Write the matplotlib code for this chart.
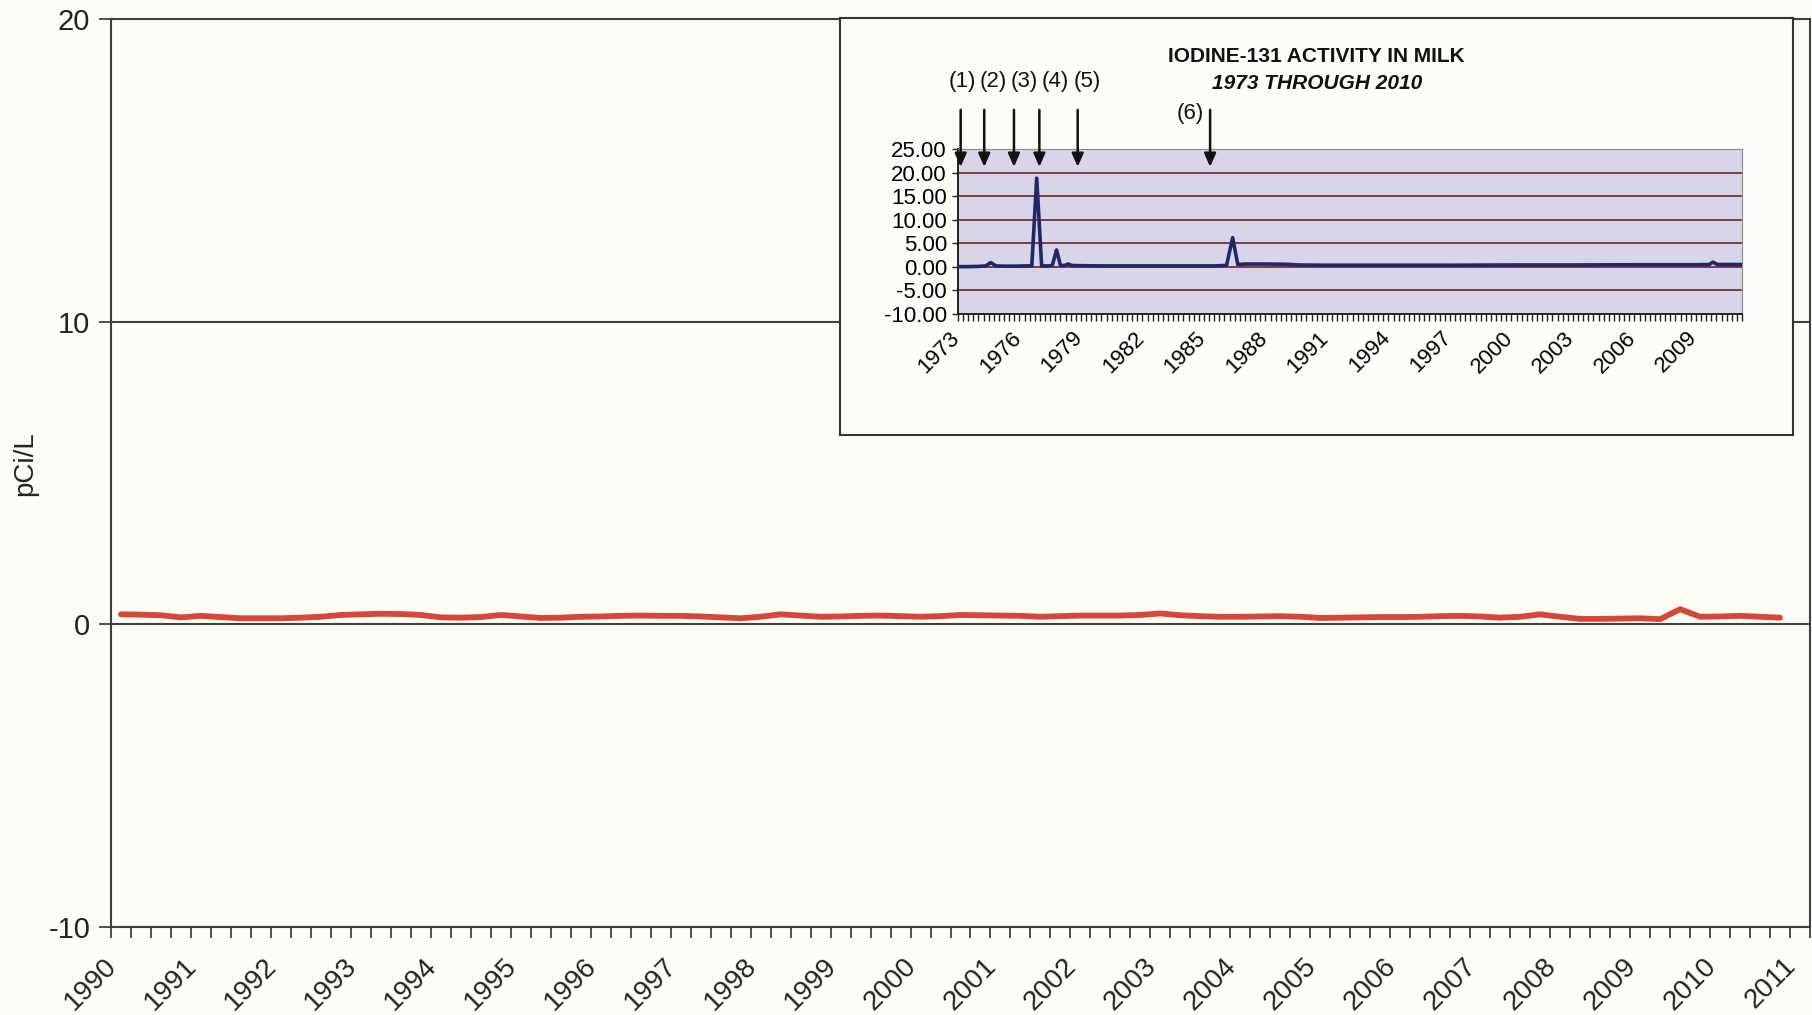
import matplotlib
matplotlib.use("Agg")
import matplotlib.pyplot as plt
import matplotlib.transforms as mtransforms
from matplotlib.ticker import MultipleLocator, FuncFormatter

plt.rcParams['font.family'] = ['Liberation Sans', 'DejaVu Sans']
plt.rcParams['axes.unicode_minus'] = False

# ---- Main chart: quarterly I-131 in milk, 1990-2010 (pCi/L) ----
years = list(range(1990, 2011))
quarter_mid = [0.125, 0.375, 0.625, 0.875]
i131_quarterly = [
    0.33, 0.32, 0.30, 0.23,   # 1990
    0.28, 0.24, 0.20, 0.20,   # 1991
    0.20, 0.22, 0.25, 0.31,   # 1992
    0.33, 0.35, 0.34, 0.31,   # 1993
    0.23, 0.22, 0.24, 0.31,   # 1994
    0.26, 0.21, 0.22, 0.25,   # 1995
    0.26, 0.28, 0.29, 0.28,   # 1996
    0.28, 0.26, 0.23, 0.20,   # 1997
    0.25, 0.33, 0.29, 0.25,   # 1998
    0.26, 0.28, 0.29, 0.27,   # 1999
    0.25, 0.27, 0.31, 0.30,   # 2000
    0.29, 0.28, 0.25, 0.27,   # 2001
    0.29, 0.29, 0.29, 0.31,   # 2002
    0.36, 0.30, 0.27, 0.25,   # 2003
    0.25, 0.26, 0.27, 0.25,   # 2004
    0.21, 0.22, 0.23, 0.24,   # 2005
    0.24, 0.25, 0.27, 0.28,   # 2006
    0.26, 0.22, 0.25, 0.33,   # 2007
    0.25, 0.18, 0.18, 0.19,   # 2008
    0.20, 0.17, 0.50, 0.25,   # 2009
    0.26, 0.28, 0.25, 0.22,   # 2010
]
main_xticks = list(range(1990, 2012))
main_yticks = [-10, 0, 10, 20]

# ---- Inset: long-term record 1973-2010 ----
inset_years = [1973.0, 1973.5, 1974.0, 1974.35, 1974.6, 1974.85, 1975.25, 1975.75,
               1976.25, 1976.6, 1976.84, 1977.08, 1977.4, 1977.6, 1977.81, 1978.0,
               1978.2, 1978.37, 1978.55, 1979.0, 1980.0, 1982.0, 1984.0, 1985.5,
               1986.1, 1986.4, 1986.65, 1987.0, 1988.0, 1989.0, 1989.6, 1991.0,
               1994.0, 1997.0, 2000.0, 2003.0, 2006.0, 2009.0, 2009.65, 2009.83,
               2010.05, 2011.25]
inset_vals = [0.05, 0.05, 0.10, 0.20, 0.90, 0.20, 0.15, 0.15,
              0.20, 0.20, 18.8, 0.20, 0.20, 0.30, 3.6, 0.30,
              0.30, 0.60, 0.30, 0.25, 0.20, 0.20, 0.20, 0.20,
              0.30, 6.2, 0.50, 0.60, 0.60, 0.55, 0.40, 0.35,
              0.35, 0.35, 0.40, 0.40, 0.45, 0.45, 0.50, 1.0,
              0.50, 0.50]
inset_yticks = [-10, -5, 0, 5, 10, 15, 20, 25]
inset_xticks = list(range(1973, 2010, 3))
event_labels = ["(1)", "(2)", "(3)", "(4)", "(5)", "(6)"]
event_years = [1973.13, 1974.28, 1975.73, 1976.97, 1978.84, 1985.3]

W, H = 1812, 1015
paper = '#fdfdf7'
ink = '#404040'
fig = plt.figure(figsize=(W / 100, H / 100), dpi=100, facecolor=paper)


def px_box(x0, y0, x1, y1):
    """Convert a pixel box (top-left origin) to figure-fraction rect."""
    return [x0 / W, 1 - y1 / H, (x1 - x0) / W, (y1 - y0) / H]


def nudge(labels, dx_px, dy_px):
    """Shift tick labels by a fixed number of pixels."""
    off = mtransforms.ScaledTranslation(dx_px / 100, dy_px / 100, fig.dpi_scale_trans)
    for lbl in labels:
        lbl.set_transform(lbl.get_transform() + off)


# ---------------- main axes ----------------
ax = fig.add_axes(px_box(111, 19, 1810, 927))
ax.set_facecolor(paper)
xs = [y + q for y in years for q in quarter_mid]
ax.plot(xs, i131_quarterly, color='#d8453b', lw=4.2, solid_capstyle='round',
        solid_joinstyle='round', zorder=3)
ax.set_xlim(1990, 2011.25)
ax.set_ylim(-10, 20)
ax.set_yticks(main_yticks)
ax.set_xticks(main_xticks)
ax.set_xticklabels([str(v) for v in main_xticks], rotation=45, ha='right',
                   va='top', rotation_mode='anchor')
ax.xaxis.set_minor_locator(MultipleLocator(0.25))
ax.tick_params(axis='x', which='both', direction='out', length=8, width=1.3,
               color=ink, labelsize=20, pad=10.5, labelcolor='#222222')
ax.tick_params(axis='y', which='major', direction='out', length=9, width=1.3,
               color=ink, labelsize=21, pad=6, labelcolor='#222222')
nudge(ax.get_xticklabels(), -7, 0)
ax.yaxis.grid(True, color=ink, lw=1.5)
ax.set_axisbelow(True)
for s in ax.spines.values():
    s.set_color(ink)
    s.set_linewidth(1.5)
ax.set_ylabel('pCi/L', fontsize=20, color='#222222')
ax.yaxis.set_label_coords(-0.043, 0.51)

# ---------------- inset frame ----------------
box = fig.add_axes(px_box(840, 18, 1793, 435), zorder=5)
box.set_facecolor(paper)
box.set_xticks([])
box.set_yticks([])
for s in box.spines.values():
    s.set_color('#333333')
    s.set_linewidth(1.5)

# ---------------- inset chart ----------------
ai = fig.add_axes(px_box(958, 149, 1742, 314), zorder=6)
ai.set_facecolor('#d8d5e9')
ai.plot(inset_years, inset_vals, color='#1f2766', lw=2.6, zorder=3)
ai.set_xlim(1973, 2011.25)
ai.set_ylim(-10, 25)
ai.set_yticks(inset_yticks)
ai.yaxis.set_major_formatter(FuncFormatter(lambda v, p: f"{v:.2f}"))
ai.set_xticks(inset_xticks)
ai.set_xticklabels([str(v) for v in inset_xticks], rotation=45, ha='right',
                   va='top', rotation_mode='anchor')
ai.xaxis.set_minor_locator(MultipleLocator(0.25))
ai.tick_params(axis='x', which='both', direction='out', length=5, width=1.0,
               color='#222222', labelsize=16, pad=4.5)
ai.tick_params(axis='y', direction='out', length=4, width=1.0, color='#222222',
               labelsize=16, pad=4)
nudge(ai.get_xticklabels(), -9, 0)
ai.yaxis.grid(True, color='#7a3b48', lw=1.4)
ai.set_axisbelow(True)
ai.spines['left'].set_color('#222222')
ai.spines['bottom'].set_color('#222222')
ai.spines['left'].set_linewidth(1.4)
ai.spines['bottom'].set_linewidth(1.4)
ai.spines['top'].set_color('#8a8a8a')
ai.spines['right'].set_color('#8a8a8a')

# event arrows above the inset chart
for yr in event_years:
    ai.annotate('', xy=(yr, 21.2), xytext=(yr, 33.3), annotation_clip=False,
                arrowprops=dict(arrowstyle='-|>,head_length=0.8,head_width=0.35',
                                color='#111111', lw=1.8, shrinkA=0, shrinkB=0))

label_px = [(962, 82), (993, 82), (1024, 82), (1055, 82), (1087, 82)]
for (lx, ly), lab in zip(label_px, event_labels[:5]):
    fig.text(lx / W, 1 - ly / H, lab, ha='center', va='center', fontsize=16,
             color='#111111', zorder=10)
fig.text(1204 / W, 1 - 113 / H, event_labels[5], ha='right', va='center',
         fontsize=16, color='#111111', zorder=10)

title_font = ['Liberation Sans Narrow', 'Liberation Sans', 'DejaVu Sans']
fig.text(1316 / W, 1 - 56 / H, 'IODINE-131 ACTIVITY IN MILK', ha='center',
         va='center', fontsize=15, fontweight='bold', family=title_font,
         color='#111111', zorder=10)
fig.text(1317 / W, 1 - 84 / H, '1973 THROUGH 2010', ha='center', va='center',
         fontsize=15, fontweight='bold', fontstyle='italic', family=title_font,
         color='#111111', zorder=10)

fig.savefig('out.png', dpi=100, facecolor=paper)
